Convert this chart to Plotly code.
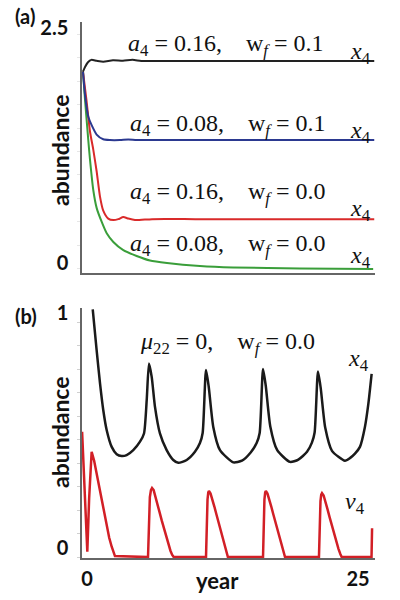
import plotly.graph_objects as go

# ---------------- Panel (a) data ----------------
a_black_t = [-0.37, -0.18, 0.09, 0.40, 0.89, 1.50, 2.40, 3.32, 4.20, 5.00, 6.0, 10.0, 15.0, 20.0, 26.5]
a_black_v = [2.10, 2.15, 2.20, 2.225, 2.215, 2.205, 2.22, 2.215, 2.225, 2.213, 2.213, 2.213, 2.213, 2.213, 2.213]

a_blue_t = [-0.37, -0.18, 0.12, 0.43, 0.89, 1.50, 2.12, 3.04, 3.8, 4.58, 6.0, 10.0, 15.0, 20.0, 26.5]
a_blue_v = [2.10, 1.85, 1.62, 1.53, 1.43, 1.38, 1.372, 1.372, 1.378, 1.372, 1.372, 1.372, 1.372, 1.372, 1.372]

a_red_t = [-0.37, -0.05, 0.28, 0.58, 0.89, 1.20, 1.50, 1.96, 2.43, 2.89, 3.35, 3.81, 4.43, 6.0, 10.0, 15.0, 20.0, 26.5]
a_red_v = [2.10, 1.80, 1.46, 1.27, 1.04, 0.77, 0.62, 0.536, 0.52, 0.53, 0.553, 0.536, 0.52, 0.53, 0.53, 0.53, 0.53, 0.53]

a_green_t = [-0.37, -0.18, 0.12, 0.28, 0.58, 0.89, 1.36, 1.82, 2.43, 3.35, 4.58, 5.81, 7.38, 10.42, 13.47, 19.65, 26.4]
a_green_v = [2.10, 1.80, 1.37, 1.16, 0.84, 0.65, 0.50, 0.38, 0.287, 0.20, 0.138, 0.09, 0.064, 0.032, 0.016, 0.005, 0.0]

# ---------------- Panel (b) data ----------------
b_x4_t = [0.53, 0.89, 1.20, 1.50, 1.82, 2.28, 2.74, 3.20, 3.66, 4.27, 4.89, 5.26, 5.51, 5.72,
          5.97, 6.27, 6.73, 7.35, 7.96, 8.42, 9.20, 9.96, 10.42, 10.67, 10.98,
          11.23, 11.65, 12.27, 13.50, 14.30, 15.10, 15.65, 15.93, 16.24,
          16.49, 16.91, 17.55, 18.73, 19.50, 20.30, 20.75, 21.00, 21.31,
          21.56, 21.98, 22.60, 23.80, 24.26, 24.72, 25.18, 25.64, 25.95, 26.26]
b_x4_v = [1.054, 0.881, 0.740, 0.626, 0.540, 0.469, 0.438, 0.430, 0.434, 0.455, 0.491, 0.526, 0.668, 0.824,
          0.767, 0.640, 0.526, 0.455, 0.413, 0.401, 0.413, 0.448, 0.485, 0.528, 0.796,
          0.725, 0.554, 0.455, 0.403, 0.410, 0.445, 0.485, 0.528, 0.800,
          0.730, 0.556, 0.455, 0.405, 0.415, 0.448, 0.487, 0.530, 0.790,
          0.720, 0.550, 0.452, 0.410, 0.421, 0.440, 0.469, 0.554, 0.650, 0.780]

b_v4_t = [-0.45, -0.20, 0.03, 0.20, 0.43, 0.66, 0.89, 1.12, 1.36, 1.59, 1.82, 2.05, 2.28, 2.45, 2.58,
          5.63, 5.70, 5.80, 5.90, 6.00, 6.15, 6.30, 6.50, 6.70, 6.90, 7.10, 7.30, 7.50, 7.70, 7.85, 8.00,
          10.98, 11.05, 11.12, 11.19, 11.25, 11.40, 11.55, 11.75, 11.95, 12.15, 12.35, 12.55, 12.75, 12.90, 13.00,
          16.24, 16.30, 16.37, 16.44, 16.50, 16.65, 16.80, 17.00, 17.20, 17.40, 17.60, 17.80, 18.00, 18.15, 18.27,
          21.40, 21.47, 21.54, 21.61, 21.68, 21.83, 21.98, 22.18, 22.38, 22.58, 22.78, 23.00, 23.20, 23.38, 23.50,
          26.25, 26.30]
b_v4_v = [0.533, 0.30, 0.023, 0.25, 0.448, 0.41, 0.356, 0.30, 0.243, 0.185, 0.129, 0.082, 0.044, 0.018, 0.004,
          0.0, 0.17, 0.255, 0.285, 0.294, 0.285, 0.262, 0.226, 0.19, 0.155, 0.12, 0.086, 0.055, 0.027, 0.01, 0.0,
          0.0, 0.16, 0.245, 0.275, 0.281, 0.27, 0.25, 0.215, 0.18, 0.145, 0.11, 0.075, 0.04, 0.015, 0.0,
          0.0, 0.16, 0.245, 0.275, 0.281, 0.27, 0.25, 0.215, 0.18, 0.145, 0.11, 0.075, 0.04, 0.015, 0.0,
          0.0, 0.155, 0.238, 0.266, 0.272, 0.262, 0.24, 0.205, 0.17, 0.135, 0.10, 0.065, 0.035, 0.012, 0.0,
          0.0, 0.123]

a_yticks = [0, 2.5]
a_yticktext = ["0", "2.5"]
b_yticks = [0, 1]
b_yticktext = ["0", "1"]
b_xticks = [0, 25]
b_xticktext = ["0", "25"]

SANS = "Lato"
SERIF = "Liberation Serif"
W, H = 400, 600

fig = go.Figure()

def add(t, v, color, width, xa, ya, shape="spline"):
    line = dict(color=color, width=width, shape=shape)
    if shape == "spline":
        line["smoothing"] = 0.6
    fig.add_trace(go.Scatter(x=t, y=v, mode="lines", xaxis=xa, yaxis=ya, line=line,
                             showlegend=False, hoverinfo="skip"))

add(a_green_t, a_green_v, "#3a9e3a", 2, "x", "y")
add(a_red_t, a_red_v, "#d92a2a", 2, "x", "y")
add(a_blue_t, a_blue_v, "#2b3990", 2, "x", "y")
add(a_black_t, a_black_v, "#222222", 2, "x", "y")
add(b_v4_t, b_v4_v, "#d21f26", 2.5, "x2", "y2", shape="linear")
add(b_x4_t, b_x4_v, "#1a1a1a", 2.5, "x2", "y2")

def px(xp):
    return xp / W

def py(yp):
    return 1 - yp / H

xrange_ = [-0.46, 26.57]
tickfont = dict(family=SANS, size=20, color="#111", weight="bold")
axcol = "#666666"
common = dict(showline=True, linecolor=axcol, linewidth=1.5, showgrid=False,
              zeroline=False, automargin=False, fixedrange=True)

fig.update_layout(
    width=W, height=H, margin=dict(l=0, r=0, t=0, b=0, autoexpand=False),
    plot_bgcolor="white", paper_bgcolor="white", showlegend=False,
    xaxis=dict(domain=[px(82), px(375)], range=xrange_, anchor="y",
               showticklabels=False, ticks="", **common),
    yaxis=dict(domain=[py(273), py(22)], range=[-0.043, 2.628], anchor="x",
               tickvals=a_yticks, ticktext=a_yticktext, ticks="",
               tickfont=tickfont, ticklabelstandoff=8, ticklabelshift=-6,
               minor=dict(dtick=0.25, ticks="outside", ticklen=3, tickcolor="#e6e6e6", tickwidth=1),
               **common),
    xaxis2=dict(domain=[px(82), px(375)], range=xrange_, anchor="y2",
                tickvals=b_xticks, ticktext=b_xticktext, ticks="",
                tickfont=tickfont, ticklabelstandoff=2, **common),
    yaxis2=dict(domain=[py(558), py(308)], range=[-0.004, 1.06], anchor="x2",
                tickvals=b_yticks, ticktext=b_yticktext, ticks="",
                tickfont=tickfont, ticklabelstandoff=8, ticklabelshift=-9,
                minor=dict(dtick=0.1, ticks="outside", ticklen=3, tickcolor="#d0d0d0", tickwidth=1),
                **common),
)

ann = []

def text(x, y, s, size, family, angle=0, xanchor="center"):
    ann.append(dict(x=px(x), y=py(y), xref="paper", yref="paper", text=s, showarrow=False,
                    font=dict(family=family, size=size, color="#111"), textangle=angle,
                    xanchor=xanchor, yanchor="middle"))

NB = "\u00a0"

def label(a, w):
    return f"<i>a</i><sub>4</sub> = {a},{NB*4}w<sub><i>f</i></sub> = {w}"

text(226, 45, label("0.16", "0.1"), 24, SERIF)
text(228, 125, label("0.08", "0.1"), 24, SERIF)
text(228, 193, label("0.16", "0.0"), 24, SERIF)
text(228, 245, label("0.08", "0.0"), 24, SERIF)
for yy in (53, 132, 210, 257):
    text(360, yy, "<i>x</i><sub>4</sub>", 24, SERIF)

text(227, 343, f"<i>μ</i><sub>22</sub> = 0,{NB*4}w<sub><i>f</i></sub> = 0.0", 24, SERIF)
text(358, 360, "<i>x</i><sub>4</sub>", 24, SERIF)
text(355, 503, "<i>ν</i><sub>4</sub>", 24, SERIF)

bold = lambda s: f"<b>{s}</b>"
text(25, 16, bold("(a)"), 20, SANS)
text(26, 316, bold("(b)"), 20, SANS)
text(60, 150, bold("abundance"), 23, SANS, angle=-90)
text(60, 432, bold("abundance"), 23, SANS, angle=-90)
text(217, 580, bold("year"), 22, SANS)

fig.update_layout(annotations=ann)
fig.write_html("out.html", config={"displayModeBar": False},
               post_script="document.body.style.margin='0px';document.body.style.overflow='hidden';")
